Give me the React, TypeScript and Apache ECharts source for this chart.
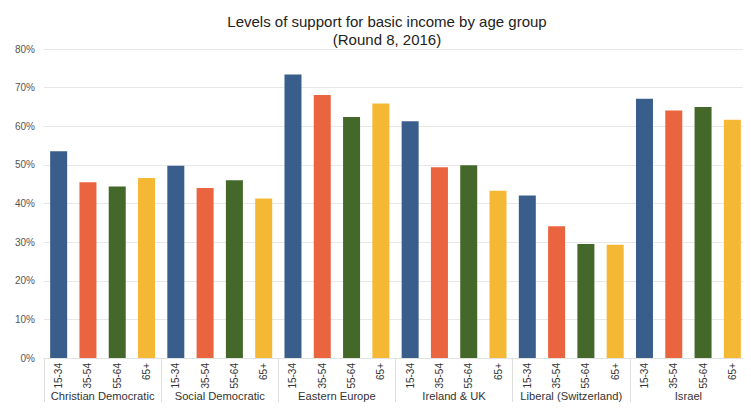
import React, { useEffect, useRef } from "react";
import * as echarts from "echarts";

// Regime groups and the age bands shown within each
const groups = [
  "Christian Democratic",
  "Social Democratic",
  "Eastern Europe",
  "Ireland & UK",
  "Liberal (Switzerland)",
  "Israel",
];
const ageBands = ["15-34", "35-54", "55-64", "65+"];
const ageColors = ["#3A5E8C", "#E9643F", "#436829", "#F5B835"];

// Share supporting a basic income (%), one row per group, in ageBands order
const christianDemocratic = [53.5, 45.5, 44.4, 46.6];
const socialDemocratic = [49.8, 44.0, 46.0, 41.3];
const easternEurope = [73.4, 68.1, 62.4, 65.9];
const irelandUK = [61.3, 49.4, 49.9, 43.3];
const liberalSwitzerland = [42.1, 34.1, 29.5, 29.3];
const israel = [67.1, 64.1, 65.0, 61.7];
const yTicks = [0, 10, 20, 30, 40, 50, 60, 70, 80];

const groupValues = [
  christianDemocratic,
  socialDemocratic,
  easternEurope,
  irelandUK,
  liberalSwitzerland,
  israel,
];

export default function App() {
  const ref = useRef<HTMLDivElement>(null);

  useEffect(() => {
    if (!ref.current) return;
    const chart = echarts.init(ref.current, null, { renderer: "svg" });
    const font = "Liberation Sans, Arial, Helvetica, sans-serif";

    const ageCategories: string[] = [];
    const barData: any[] = [];
    groupValues.forEach((vals) => {
      vals.forEach((v, i) => {
        ageCategories.push(ageBands[i]);
        barData.push({ value: v, itemStyle: { color: ageColors[i] } });
      });
    });

    chart.setOption({
      animation: false,
      backgroundColor: "#ffffff",
      textStyle: { fontFamily: font },
      title: {
        text: "Levels of support for basic income by age group\n(Round 8, 2016)",
        left: 382,
        textAlign: "center",
        top: 7,
        textStyle: {
          fontFamily: font,
          fontSize: 15,
          fontWeight: "normal",
          color: "#222",
          lineHeight: 18,
        },
      },
      grid: { left: 44, right: 4, top: 49, bottom: 52 },
      xAxis: [
        {
          type: "category",
          data: ageCategories,
          position: "bottom",
          axisLine: { show: true, lineStyle: { color: "#e2e2e2" } },
          axisTick: { show: false },
          axisLabel: {
            rotate: 90,
            interval: 0,
            fontSize: 10,
            color: "#333",
            margin: 5,
            fontFamily: font,
          },
        },
        {
          type: "category",
          data: groups,
          position: "bottom",
          axisLine: { show: false },
          axisTick: {
            show: true,
            length: 54,
            lineStyle: { color: "#dddddd" },
          },
          axisLabel: {
            interval: 0,
            fontSize: 11.2,
            color: "#333",
            margin: 32,
            fontFamily: font,
          },
        },
      ],
      yAxis: {
        type: "value",
        min: yTicks[0],
        max: yTicks[yTicks.length - 1],
        interval: 10,
        axisLine: { show: false },
        axisTick: { show: false },
        splitLine: { lineStyle: { color: "#e8e8e8" } },
        axisLabel: {
          formatter: "{value}%",
          fontSize: 10,
          color: "#555",
          margin: 9,
          fontFamily: font,
        },
      },
      series: [
        {
          type: "bar",
          xAxisIndex: 0,
          data: barData,
          barWidth: 17,
        },
      ],
    });

    return () => chart.dispose();
  }, []);

  return <div ref={ref} style={{ width: 751, height: 410, margin: -8 }} />;
}
